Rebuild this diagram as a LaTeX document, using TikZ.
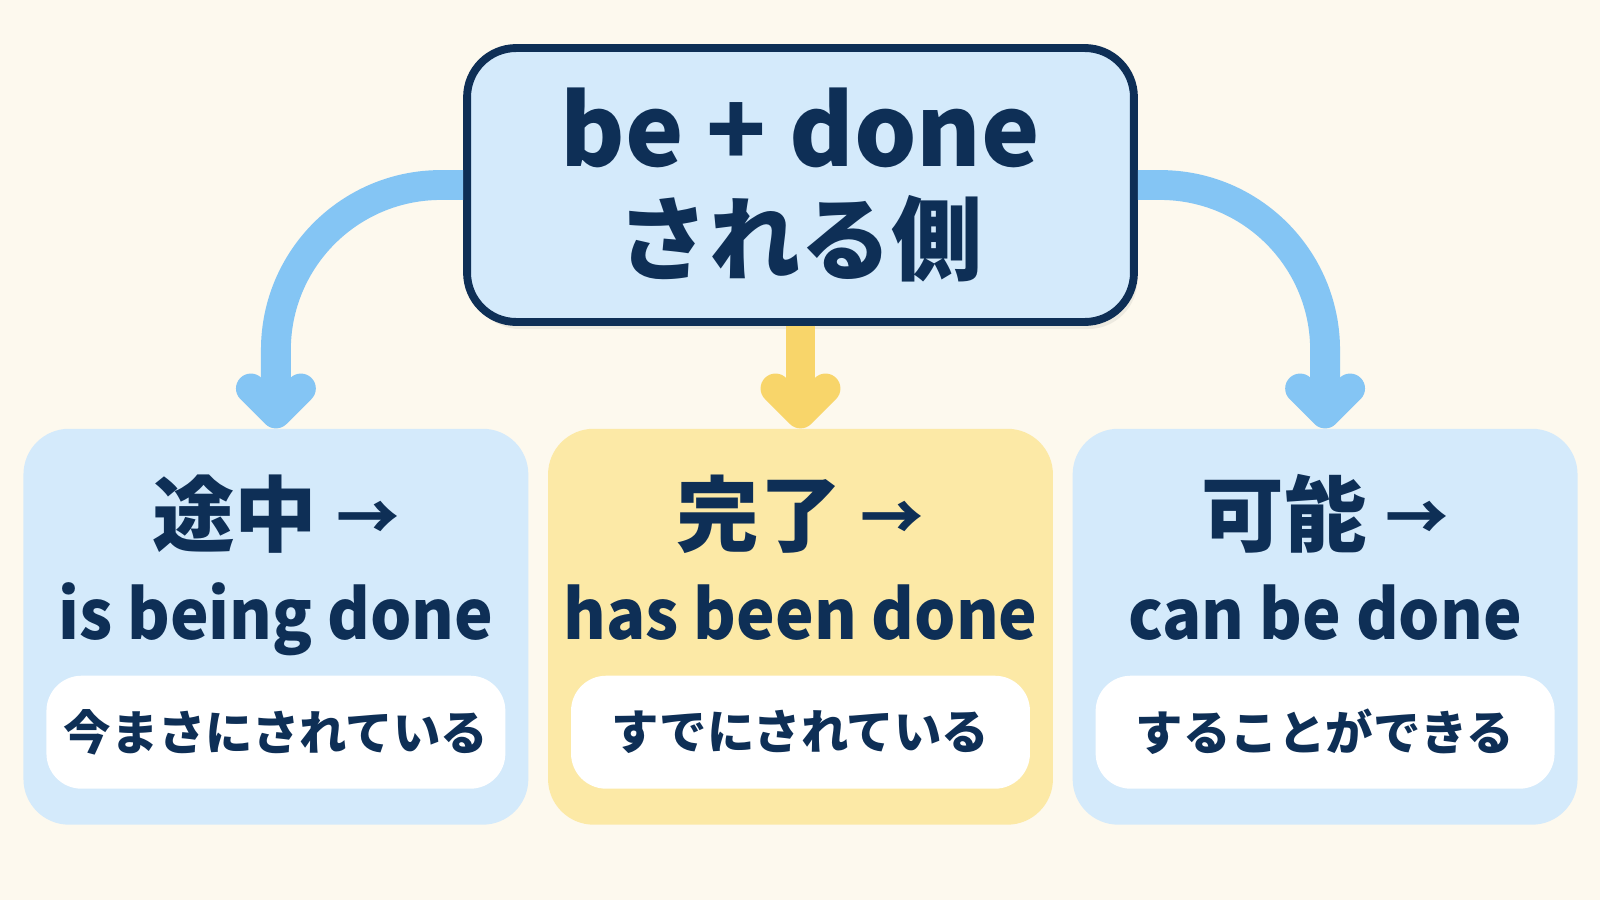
\documentclass[tikz,border=0pt]{standalone}
\usepackage{fontspec}
\setmainfont{Noto Sans CJK JP}
\newfontfamily\verbfont{Noto Sans CJK JP}[FakeStretch=0.95]
\usepackage{tikz}
\usetikzlibrary{arrows.meta,positioning,shadows}
\definecolor{mycream}{RGB}{253,249,238}
\definecolor{mynavy}{RGB}{14,47,86}
\definecolor{myskyfill}{RGB}{212,234,251}
\definecolor{myskyline}{RGB}{132,197,244}
\definecolor{mysunfill}{RGB}{252,233,166}
\definecolor{mysunline}{RGB}{248,213,106}
\tikzstyle{headbox}=[draw=mynavy,line width=4.5pt,fill=myskyfill,rounded corners=28pt,minimum width=13.34cm,minimum height=5.48cm,align=center,drop shadow={shadow xshift=2pt,shadow yshift=-4pt,opacity=0.12}]
\tikzstyle{casebox}=[rounded corners=26pt,minimum width=10.1cm,minimum height=7.92cm,inner sep=0pt]
\tikzstyle{notebox}=[fill=white,rounded corners=20pt,minimum width=9.18cm,minimum height=2.26cm,font=\bfseries\fontsize{27pt}{29pt}\selectfont]
\tikzstyle{casehead}=[anchor=base,font=\bfseries\fontsize{47pt}{50pt}\selectfont]
\tikzstyle{caseverb}=[anchor=base,font=\verbfont\bfseries\fontsize{39pt}{42pt}\selectfont]
\tikzstyle{flow}=[line width=17pt,rounded corners=3.3cm,-{Straight Barb[length=0.5cm,width=1.0cm,line cap=round,line join=round]}]
\newcommand{\thinarrow}{\raisebox{3pt}{\fontsize{36pt}{38pt}\selectfont →}}

\begin{document}
\begin{tikzpicture}[x=0.02cm,y=-0.02cm,every node/.append style={text=mynavy}]
\path[use as bounding box,fill=mycream] (0,0) rectangle (1600,900);

\node [headbox] (tb) at (800.5,185)
  {{\bfseries\fontsize{56pt}{58pt}\selectfont be + done}\\[15pt]
   {\bfseries\fontsize{52pt}{58pt}\selectfont される側}};

\node [casebox,fill=mysunfill,below=2.05cm of tb] (mid) {};
\node [casebox,fill=myskyfill,left=0.38cm of mid] (lft) {};
\node [casebox,fill=myskyfill,right=0.38cm of mid] (rgt) {};

% case titles
\node [casehead] (lfthead) at ([yshift=-2.34cm]lft.north) {途中 \thinarrow};
\node [caseverb] (lftverb) at ([yshift=-4.22cm]lft.north) {is being done};
\node [notebox,above=0.72cm of lft.south] (lftnote) {今まさにされている};

\node [casehead] (midhead) at ([yshift=-2.34cm]mid.north) {完了 \thinarrow};
\node [caseverb] (midverb) at ([yshift=-4.22cm]mid.north) {has been done};
\node [notebox,above=0.72cm of mid.south] (midnote) {すでにされている};

\node [casehead] (rgthead) at ([yshift=-2.34cm]rgt.north) {可能 \thinarrow};
\node [caseverb] (rgtverb) at ([yshift=-4.22cm]rgt.north) {can be done};
\node [notebox,above=0.72cm of rgt.south] (rgtnote) {することができる};

% arrows
\draw [flow,myskyline] (tb.west) -| (lft.north);
\draw [flow,mysunline] (tb.south) -- (mid.north);
\draw [flow,myskyline] (tb.east) -| (rgt.north);
\end{tikzpicture}
\end{document}
